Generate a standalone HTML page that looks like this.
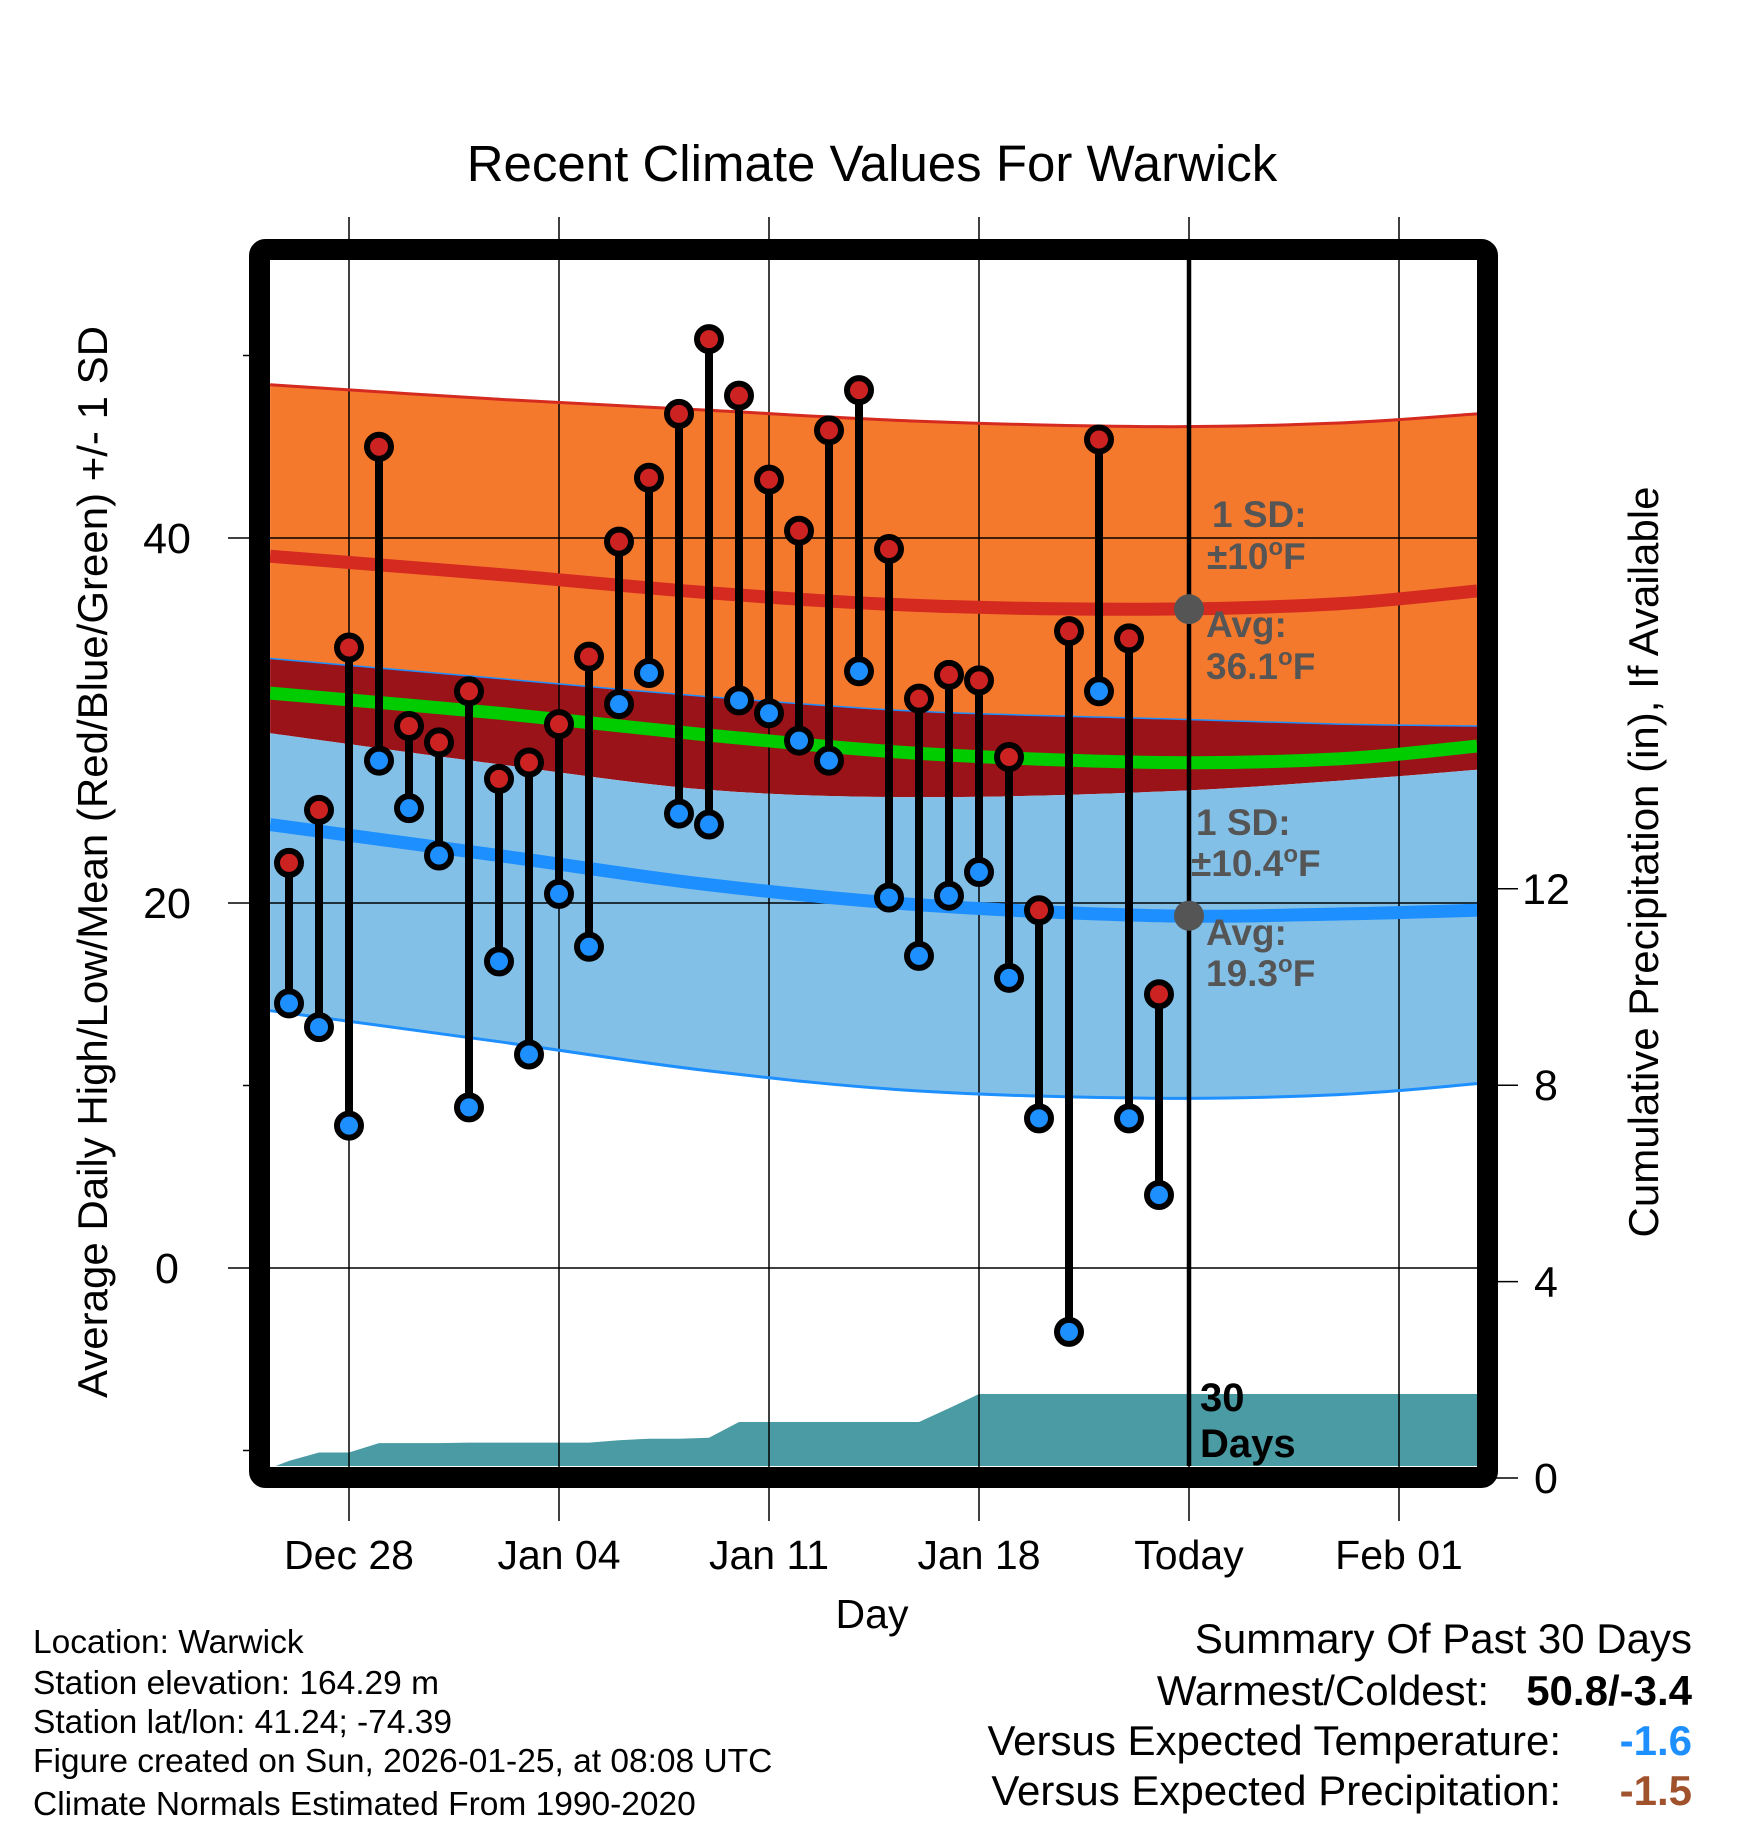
<!DOCTYPE html>
<html><head><meta charset="utf-8"><style>
html,body{margin:0;padding:0;background:#fff;}
svg{display:block;font-family:"Liberation Sans",sans-serif;}
</style></head><body>
<svg id="chart" width="1748" height="1828" viewBox="0 0 1748 1828" xmlns="http://www.w3.org/2000/svg">
<g id="fills"></g><g id="grid"></g><g id="lines"></g><g id="marks"></g><g id="annot"></g><g id="frame"></g>
</svg>
<script>
// ---- data ----
const dayLabels = ["Dec 28","Jan 04","Jan 11","Jan 18","Today","Feb 01"];
const dayTicks = [0,7,14,21,28,35];
const highs = [22.2,25.1,34.0,45.0,29.7,28.8,31.6,26.8,27.7,29.8,33.5,39.8,43.3,46.8,50.9,47.8,43.2,40.4,45.9,48.1,39.4,31.2,32.5,32.2,28.0,19.6,34.9,45.4,34.5,15.0];
const lows  = [14.5,13.2,7.8,27.8,25.2,22.6,8.8,16.8,11.7,20.5,17.6,30.9,32.6,24.9,24.3,31.1,30.4,28.9,27.8,32.7,20.3,17.1,20.4,21.7,15.9,8.2,-3.5,31.6,8.2,4.0];
const firstDay = -2;
const normDays = [-2.63,5,12,19,27,33,37.6];
const hiTop  = [48.4,47.6,47.0,46.4,46.1,46.3,46.8];
const hiMean = [39.0,38.0,37.0,36.3,36.1,36.4,37.1];
const hiBot  = [33.4,32.3,31.3,30.5,30.1,29.8,29.7];
const midMean= [31.5,30.4,29.2,28.2,27.7,27.9,28.6];
const loTop  = [29.3,27.6,26.2,25.8,26.1,26.7,27.3];
const loMean = [24.3,22.6,21.0,19.9,19.3,19.4,19.6];
const loBot  = [14.1,12.4,10.8,9.7,9.3,9.5,10.1];
const precipDays = [-2.63,-2,-1,0,1,2,3,4,5,6,7,8,9,10,11,12,13,14,15,16,17,18,19,20,21,22,23,24,25,26,27,37.6];
const precip = [0.2,0.35,0.52,0.52,0.71,0.71,0.71,0.72,0.72,0.72,0.72,0.72,0.77,0.8,0.8,0.82,1.14,1.14,1.14,1.14,1.14,1.14,1.14,1.42,1.71,1.71,1.71,1.71,1.71,1.71,1.71,1.71];
const tempTicks = [0,20,40];
const tempMinor = [-10,10,50];
const precipTicks = [0,4,8,12];

// ---- axes ----
const L=270,R=1477,T=260,B=1466;
const x = d => 349 + d*30;
const y = t => 1268 - t*18.25;
const yp = p => 1478 - p*49.1;
const NS="http://www.w3.org/2000/svg";
function mk(parent,tag,attrs,text){const e=document.createElementNS(NS,tag);for(const k in attrs)e.setAttribute(k,attrs[k]);if(text!==undefined)e.textContent=text;document.getElementById(parent).appendChild(e);return e;}
function smooth(xs,ys){let pts=xs.map((d,i)=>[x(d),y(ys[i])]);let s="M"+pts[0][0]+","+pts[0][1];for(let i=0;i<pts.length-1;i++){const p0=pts[Math.max(0,i-1)],p1=pts[i],p2=pts[i+1],p3=pts[Math.min(pts.length-1,i+2)];const c1=[p1[0]+(p2[0]-p0[0])/6,p1[1]+(p2[1]-p0[1])/6],c2=[p2[0]-(p3[0]-p1[0])/6,p2[1]-(p3[1]-p1[1])/6];s+=` C${c1[0]},${c1[1]} ${c2[0]},${c2[1]} ${p2[0]},${p2[1]}`;}return s;}
function revSmooth(xs,ys){return smooth(xs.slice().reverse(),ys.slice().reverse()).replace(/^M/,"L");}
function band(a,b,fill,name){const e=mk("fills","path",{d:smooth(normDays,a)+" "+revSmooth(normDays,b)+" Z",fill:fill});

}

const cp=mk("fills","clipPath",{id:"pc"});
const cr=document.createElementNS(NS,"rect");cr.setAttribute("x",L);cr.setAttribute("y",T);cr.setAttribute("width",R-L);cr.setAttribute("height",B-T);cp.appendChild(cr);
["fills","lines","marks"].forEach(g=>document.getElementById(g).setAttribute("clip-path","url(#pc)"));

band(hiTop,hiBot,"#f5792d","high-sd-band");
band(hiBot,loTop,"#9a1318","overlap-band");
band(loTop,loBot,"#83c0e8","low-sd-band");
let pd="M"+x(precipDays[0])+","+yp(0);
precipDays.forEach((d,i)=>{pd+=" L"+x(d)+","+yp(precip[i]);});
pd+=" L"+x(precipDays[precipDays.length-1])+","+yp(0)+" Z";
const pa=mk("fills","path",{d:pd,fill:"#4a9ba3"});



dayTicks.forEach((d,i)=>{
  const g=mk("grid","line",{x1:x(d),x2:x(d),y1:217,y2:1521,stroke:"#000","stroke-width":1.5});
  
  
  const t=mk("grid","text",{x:x(d),y:1569,"text-anchor":"middle","font-size":41},dayLabels[i]);
  
  
});
tempTicks.forEach(v=>{
  const g=mk("grid","line",{x1:228,x2:R,y1:y(v),y2:y(v),stroke:"#000","stroke-width":1.5});
  
  
  const t=mk("grid","text",{x:167,y:y(v)+15,"text-anchor":"middle","font-size":43},String(v));
  
  
});
tempMinor.forEach(v=>{
  const g=mk("grid","line",{x1:243,x2:255,y1:y(v),y2:y(v),stroke:"#000","stroke-width":1.5});
  
  
});
precipTicks.forEach(v=>{
  const g=mk("grid","line",{x1:1496,x2:1518,y1:yp(v),y2:yp(v),stroke:"#000","stroke-width":1.5});
  
  
  const t=mk("grid","text",{x:1546,y:yp(v)+15,"text-anchor":"middle","font-size":43},String(v));
  
  
});

function line(arr,color,w,name){const e=mk("lines","path",{d:smooth(normDays,arr),fill:"none",stroke:color,"stroke-width":w});

}
line(hiTop,"#d42a20",3,"high-plus-sd-line");
line(hiBot,"#1e8fff",1.5,"high-minus-sd-line");
line(hiMean,"#d42a20",13,"normal-high-line");
line(midMean,"#00cc00",13,"normal-mean-line");
line(loMean,"#1e8fff",13,"normal-low-line");
line(loBot,"#1e8fff",3,"low-minus-sd-line");

highs.forEach((h,i)=>{
  const d=firstDay+i, lo=lows[i];
  const s=mk("marks","line",{x1:x(d),x2:x(d),y1:y(h),y2:y(lo),stroke:"#000","stroke-width":8});
  
  
  const c1=mk("marks","circle",{cx:x(d),cy:y(h),r:12,fill:"#cc2222",stroke:"#000","stroke-width":6});
  
  
  const c2=mk("marks","circle",{cx:x(d),cy:y(lo),r:12,fill:"#1e8fff",stroke:"#000","stroke-width":6});
  
  
});
const tl=mk("marks","line",{x1:x(28),x2:x(28),y1:T,y2:B,stroke:"#000","stroke-width":4.5});


const d1=mk("marks","circle",{cx:x(28),cy:y(hiMean[4]),r:15,fill:"#555"});


const d2=mk("marks","circle",{cx:x(28),cy:y(loMean[4]),r:15,fill:"#555"});


</script>
<script>
const an=document.getElementById("annot");
an.innerHTML=`
<text x="872" y="181" text-anchor="middle" font-size="51">Recent Climate Values For Warwick</text>
<text x="872" y="1628" text-anchor="middle" font-size="41">Day</text>
<text transform="translate(107,862) rotate(-90)" text-anchor="middle" font-size="42">Average Daily High/Low/Mean (Red/Blue/Green) +/- 1 SD</text>
<text transform="translate(1658,862) rotate(-90)" text-anchor="middle" font-size="42">Cumulative Precipitation (in), If Available</text>
<g font-weight="bold" font-size="37" fill="#555">
<text x="1212" y="527">1 SD:</text>
<text x="1207" y="569">±10<tspan font-size="24" dy="-14">o</tspan><tspan dy="14">F</tspan></text>
<text x="1206" y="637">Avg:</text>
<text x="1206" y="679">36.1<tspan font-size="24" dy="-14">o</tspan><tspan dy="14">F</tspan></text>
<text x="1196" y="835">1 SD:</text>
<text x="1191" y="876">±10.4<tspan font-size="24" dy="-14">o</tspan><tspan dy="14">F</tspan></text>
<text x="1206" y="945">Avg:</text>
<text x="1206" y="986">19.3<tspan font-size="24" dy="-14">o</tspan><tspan dy="14">F</tspan></text>
</g>
<g font-weight="bold" font-size="40" fill="#000">
<text x="1200" y="1411">30</text>
<text x="1200" y="1457">Days</text>
</g>
<g font-size="33.5">
<text x="33" y="1653">Location: Warwick</text>
<text x="33" y="1694">Station elevation: 164.29 m</text>
<text x="33" y="1733">Station lat/lon: 41.24; -74.39</text>
<text x="33" y="1772">Figure created on Sun, 2026-01-25, at 08:08 UTC</text>
<text x="33" y="1815">Climate Normals Estimated From 1990-2020</text>
</g>
<g font-size="42">
<text x="1692" y="1653" text-anchor="end">Summary Of Past 30 Days</text>
<text x="1489" y="1705" text-anchor="end">Warmest/Coldest:</text>
<text x="1692" y="1705" text-anchor="end" font-weight="bold">50.8/-3.4</text>
<text x="1561" y="1755" text-anchor="end">Versus Expected Temperature:</text>
<text x="1692" y="1755" text-anchor="end" font-weight="bold" fill="#1e8fff">-1.6</text>
<text x="1561" y="1805" text-anchor="end">Versus Expected Precipitation:</text>
<text x="1692" y="1805" text-anchor="end" font-weight="bold" fill="#a0522d">-1.5</text>
</g>`;
document.getElementById("frame").innerHTML=`<rect x="259.5" y="249.5" width="1228" height="1228" rx="6" fill="none" stroke="#000" stroke-width="21"/>`;
</script>
</body></html>
